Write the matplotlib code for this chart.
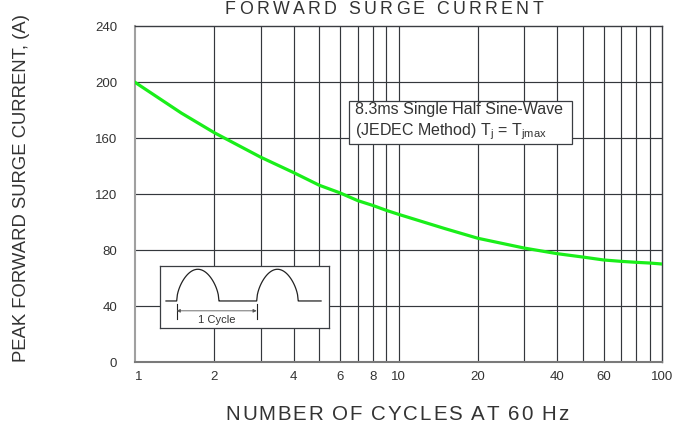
import numpy as np
import matplotlib
matplotlib.use("Agg")
import matplotlib.pyplot as plt
from matplotlib.patches import Rectangle
from matplotlib.font_manager import findfont, FontProperties, get_font

plt.rcParams['font.family'] = ['Liberation Sans', 'DejaVu Sans']

# values
cycles = [1, 1.5, 2, 3, 4, 5, 6, 7, 8, 9, 10, 15, 20, 30, 40, 50, 60, 70, 80, 90, 100]
surge_amps = [200, 178, 164, 146.5, 135.5, 126.5, 121, 115.5, 112, 108.5, 105.7,
              95.5, 88.6, 81.6, 77.6, 75.2, 73.1, 72.1, 71.4, 70.9, 70.2]

x_ticks = [1, 2, 4, 6, 8, 10, 20, 40, 60, 100]
x_grid = [2, 3, 4, 5, 6, 7, 8, 9, 10, 20, 30, 40, 50, 60, 70, 80, 90]
y_ticks = [0, 40, 80, 120, 160, 200, 240]

W, H = 684, 428
TXT = '#333333'


def fx(px):
    return px / W


def fy(py):
    return 1 - py / H


fig = plt.figure(figsize=(W / 100, H / 100), dpi=100)


def spaced_text(cx, base_y, s, size, width_px):
    # the reference lays out titles with wide letter spacing, so place char by char
    font = get_font(findfont(FontProperties(family='Liberation Sans')))
    font.set_size(size, 100)
    adv = [font.load_char(ord(c)).linearHoriAdvance / 65536 for c in s]
    track = (width_px - sum(adv)) / (len(s) - 1)
    pos = cx - width_px / 2
    for c, a in zip(s, adv):
        if c != ' ':
            fig.text(fx(pos + a / 2), fy(base_y), c, fontsize=size, color=TXT,
                     ha='center', va='baseline')
        pos += a + track


ax = fig.add_axes([fx(135), fy(362.3), fx(662) - fx(135), (362.3 - 26.3) / H])

ax.set_xscale('log')
ax.set_xlim(1, 100)
ax.set_ylim(0, 240)

grid_col = '#34373c'
for g in x_grid:
    ax.axvline(g, color=grid_col, lw=0.85, zorder=1)
for t in y_ticks[1:-1]:
    ax.axhline(t, color=grid_col, lw=0.85, zorder=1)

ax.plot(cycles, surge_amps, color='#1aee1a', lw=2.3, zorder=3)

ax.set_xticks(x_ticks)
ax.set_xticklabels([str(v) for v in x_ticks])
ax.xaxis.set_minor_locator(matplotlib.ticker.NullLocator())
ax.set_yticks(y_ticks)
ax.tick_params(axis='both', length=0, labelsize=9.5, colors=TXT)
ax.tick_params(axis='x', pad=6)
ax.tick_params(axis='y', pad=13)
ax.get_xticklabels()[0].set_ha('left')

for side in ['top', 'right']:
    ax.spines[side].set_color('#3a3d42')
    ax.spines[side].set_linewidth(1.0)
ax.spines['left'].set_color('#a0a0a0')
ax.spines['left'].set_linewidth(1.5)
ax.spines['bottom'].set_color('#7a7a7a')
ax.spines['bottom'].set_linewidth(1.5)

# titles and axis labels
spaced_text(384, 14.5, 'FORWARD SURGE CURRENT', 12.8, 318)
spaced_text(397, 420.5, 'NUMBER OF CYCLES AT 60 Hz', 14.8, 343)
fig.text(fx(21.5), fy(188), 'PEAK FORWARD SURGE CURRENT, (A)', fontsize=13.3, color=TXT,
         ha='center', va='center', rotation=90)

# condition box
fig.patches.append(Rectangle((fx(349), fy(144)), fx(572) - fx(349), (144 - 101) / H,
                             transform=fig.transFigure, facecolor='white',
                             edgecolor='#3a3d42', lw=0.9, zorder=5))
fig.text(fx(355), fy(109.5), '8.3ms Single Half Sine-Wave', fontsize=11.5, color=TXT,
         ha='left', va='center', zorder=6)
fig.text(fx(355), fy(132), r'(JEDEC Method) T$_{\mathregular{j}}$ = T$_{\mathregular{jmax}}$',
         fontsize=11.5, color=TXT, ha='left', va='center', zorder=6)

# waveform inset
iax = fig.add_axes([fx(160), fy(328), fx(329) - fx(160), (328 - 266) / H], zorder=5)
iax.set_xlim(0, 1)
iax.set_ylim(0, 1)
iax.set_xticks([])
iax.set_yticks([])
for sp in iax.spines.values():
    sp.set_color('#3a3d42')
    sp.set_linewidth(0.9)

base, peak = 0.436, 0.947
hump1 = (0.0986, 0.349)
hump2 = (0.572, 0.818)
t = np.linspace(0, 1, 60)
wave_x = [0.0355]
wave_y = [base]
for a, b in [hump1, hump2]:
    wave_x += list(a + (b - a) * t)
    wave_y += list(base + (peak - base) * np.sin(np.pi * t) ** 0.55)
    wave_x.append(b)
    wave_y.append(base)
wave_x.append(0.953)
wave_y.append(base)
iax.plot(wave_x, wave_y, color='#222222', lw=0.9)

iax.plot([hump1[0], hump1[0]], [0.14, 0.39], color='#222222', lw=0.8)
iax.plot([hump2[0], hump2[0]], [0.14, 0.39], color='#222222', lw=0.8)
iax.annotate('', xy=(hump1[0], 0.277), xytext=(hump2[0], 0.277),
             arrowprops=dict(arrowstyle='<|-|>', color='#555555', lw=0.6,
                             mutation_scale=5, shrinkA=0, shrinkB=0))
iax.text((hump1[0] + hump2[0]) / 2, 0.13, '1 Cycle', fontsize=8, color=TXT,
         ha='center', va='center')

fig.savefig('out.png', dpi=100)
